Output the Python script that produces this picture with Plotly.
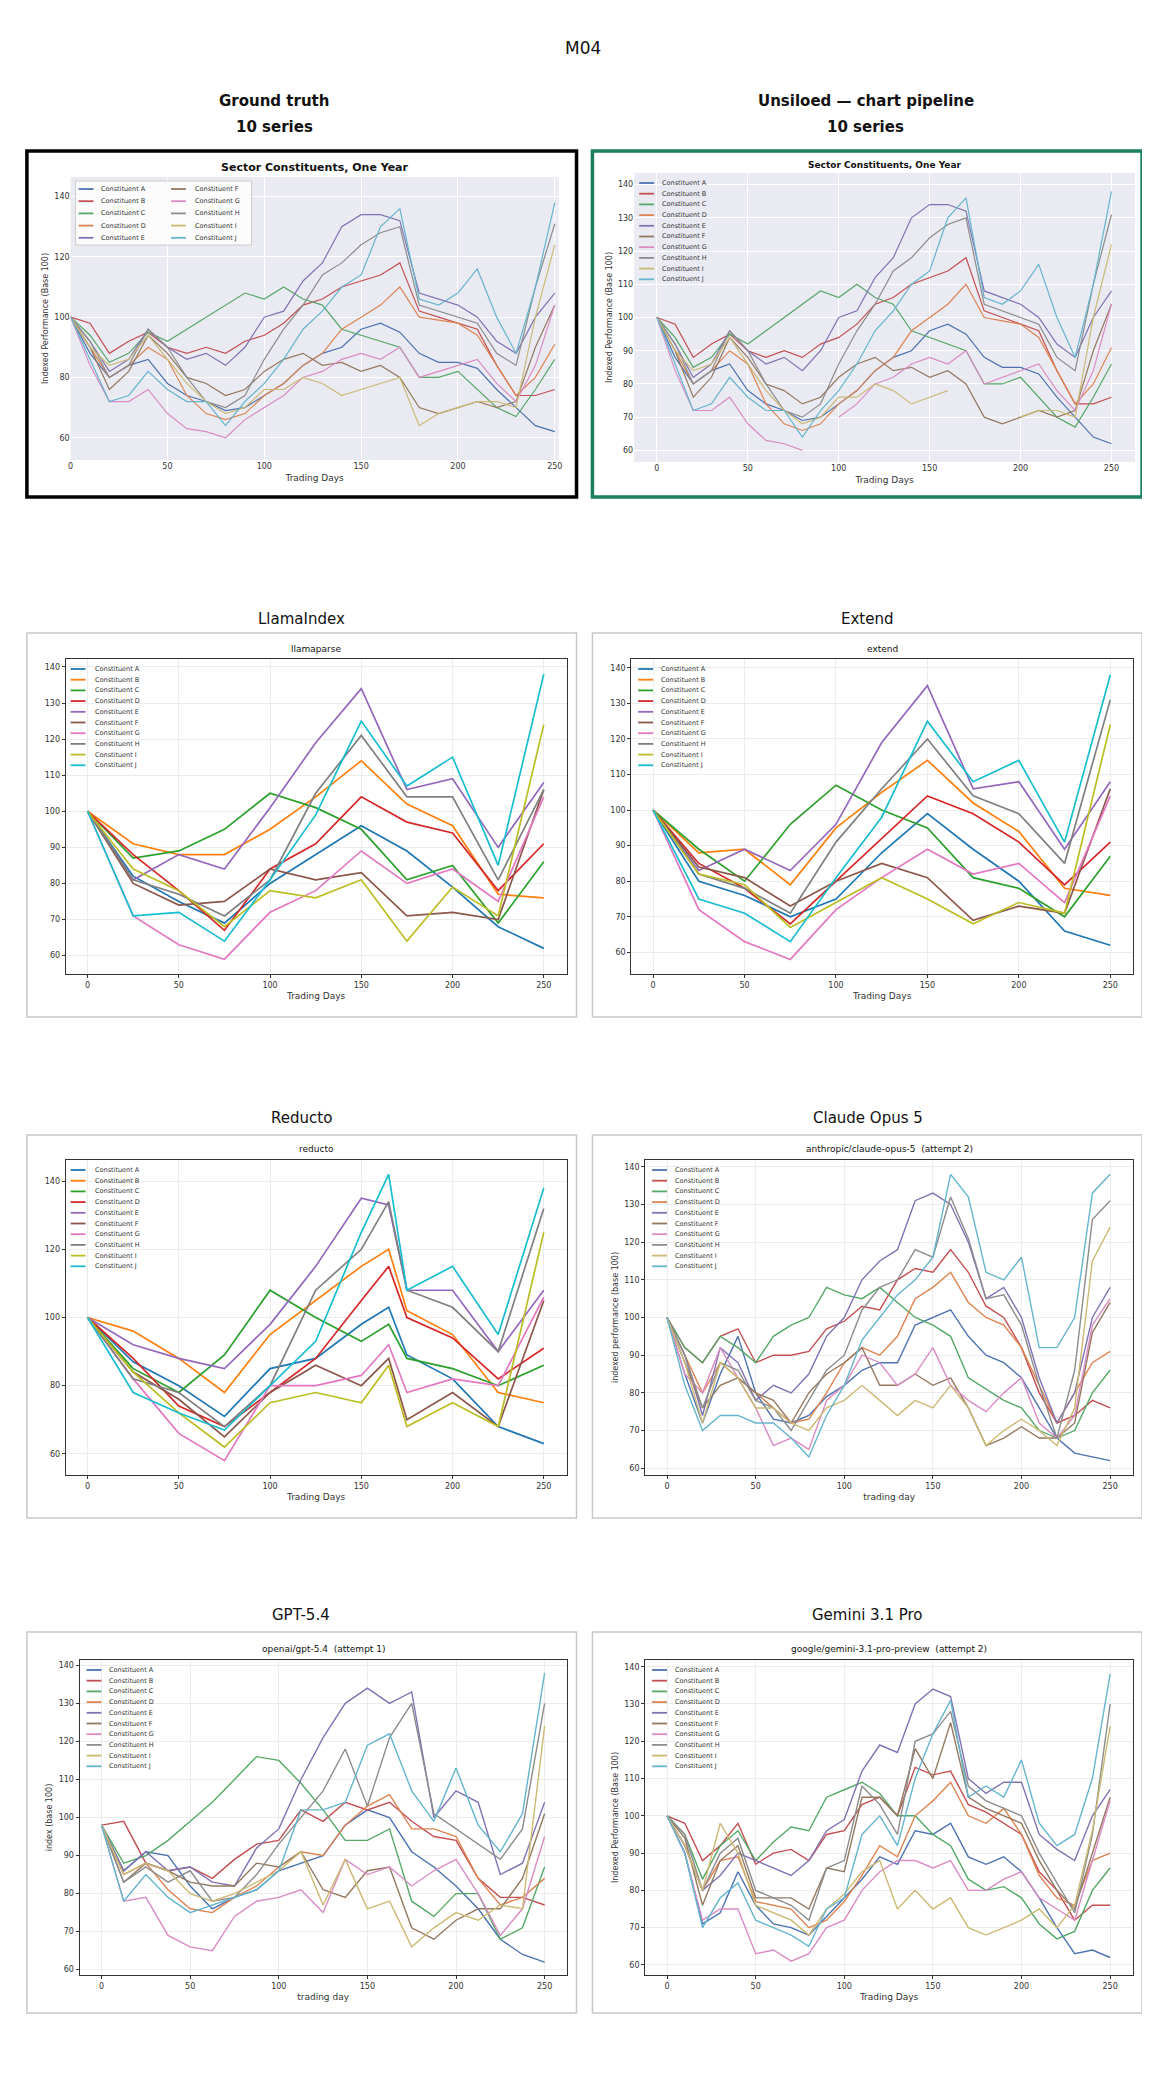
import plotly.graph_objects as go

W, H = 1150, 2100
NAMES = [f"Constituent {c}" for c in "ABCDEFGHIJ"]

DEEP = ["#4C72B0", "#C44E52", "#55A868", "#DD8452", "#8172B3", "#937860", "#DA8BC3", "#8C8C8C", "#CCB974", "#64B5CD"]
TAB10 = ["#1f77b4", "#ff7f0e", "#2ca02c", "#d62728", "#9467bd", "#8c564b", "#e377c2", "#7f7f7f", "#bcbd22", "#17becf"]

# ---- data ----
days10 = list(range(0, 251, 10))
days25 = list(range(0, 251, 25))
days_reducto = [0, 25, 50, 75, 100, 125, 150, 165, 175, 200, 225, 250]
days_gpt = [i * 12.5 for i in range(21)]

gt = [
    [100,88,80,84,86,78,74,72,69,70,74,78,84,88,90,96,98,95,88,85,85,83,76,70,64,62],
    [100,98,88,92,95,90,88,90,88,92,94,98,104,106,110,112,114,118,102,100,98,96,84,74,74,76],
    [100,94,85,88,95,92,96,100,104,108,106,110,106,104,96,94,92,90,80,80,82,76,70,67,76,86],
    [100,90,80,84,90,86,74,68,66,68,74,78,84,88,96,100,104,110,100,99,98,94,84,74,80,91],
    [100,92,82,86,96,90,86,88,84,90,100,102,112,118,130,134,134,132,108,106,104,100,92,88,100,108],
    [100,90,76,82,94,88,80,78,74,76,82,86,88,84,85,82,84,80,70,68,70,72,70,72,90,104],
    [100,84,72,72,76,68,63,62,60,66,70,74,80,82,86,88,86,90,80,82,84,86,78,72,84,104],
    [100,92,80,84,96,90,80,72,70,74,86,96,104,114,118,124,128,130,104,102,100,98,88,84,110,131],
    [100,90,84,86,94,86,78,72,68,70,76,76,80,78,74,76,78,80,64,68,70,72,72,70,100,124],
    [100,86,72,74,82,76,72,72,64,72,78,86,96,102,110,114,130,136,106,104,108,116,100,88,110,138],
]
uns = [
    [100,88,80,84,86,78,74,72,69,70,74,78,84,88,90,96,98,95,88,85,85,83,76,70,64,62],
    [100,98,88,92,95,90,88,90,88,92,94,98,104,106,110,112,114,118,102,100,98,96,84,74,74,76],
    [100,94,85,88,95,92,96,100,104,108,106,110,106,104,96,94,92,90,80,80,82,76,70,67,76,86],
    [100,90,80,84,90,86,74,68,66,68,74,78,84,88,96,100,104,110,100,99,98,94,84,74,80,91],
    [100,92,82,86,96,90,86,88,84,90,100,102,112,118,130,134,134,132,108,106,104,100,92,88,100,108],
    [100,90,76,82,94,88,80,78,74,76,82,86,88,84,85,82,84,80,70,68,70,72,70,72,90,104],
    [100,84,72,72,76,68,63,62,60,None,70,74,80,82,86,88,86,90,80,82,84,86,78,72,84,104],
    [100,92,80,84,96,90,80,72,70,74,86,96,104,114,118,124,128,130,104,102,100,98,88,84,110,131],
    [100,90,84,86,94,86,78,72,68,70,76,76,80,78,74,76,78,None,64,None,70,72,72,70,100,122],
    [100,86,72,74,82,76,72,72,64,72,78,86,96,102,110,114,130,136,106,104,108,116,100,88,110,138],
]
llama = [
    [100,82,75,69,80,88,96,89,79,68,62],
    [100,91,88,88,95,104,114,102,96,77,76],
    [100,87,89,95,105,101,95,81,85,69,86],
    [100,88,78,67,84,91,104,97,94,78,91],
    [100,81,88,84,101,119,134,106,109,90,108],
    [100,80,74,75,84,81,83,71,72,70,106],
    [100,71,63,59,72,78,89,80,84,75,104],
    [100,81,77,71,81,105,121,104,104,81,106],
    [100,84,78,68,78,76,81,64,79,71,124],
    [100,71,72,64,81,99,125,107,115,85,138],
]
extend = [
    [100,80,76,70,75,88,99,89,80,66,62],
    [100,88,89,79,95,105,114,102,94,78,76],
    [100,89,80,96,107,100,95,81,78,70,87],
    [100,85,78,68,80,92,104,99,91,79,91],
    [100,83,89,83,96,119,135,106,108,89,108],
    [100,84,81,73,80,85,81,69,73,71,106],
    [100,72,63,58,72,81,89,82,85,74,104],
    [100,82,78,71,91,106,120,104,99,85,131],
    [100,82,79,67,74,81,75,68,74,71,124],
    [100,75,71,63,81,98,125,108,114,91,138],
]
reducto = [
    [100,87,80,71,85,88,98,103,89,82,68,63],
    [100,96,88,78,95,105,115,120,102,95,78,75],
    [100,85,78,89,108,100,93,98,88,85,80,86],
    [100,88,74,68,78,88,105,115,100,94,82,91],
    [100,92,88,85,98,115,135,133,108,108,90,108],
    [100,84,76,65,78,86,80,88,70,78,68,105],
    [100,82,66,58,80,80,83,92,78,82,80,106],
    [100,82,78,68,80,108,120,134,108,103,90,132],
    [100,84,72,62,75,78,75,86,68,75,68,125],
    [100,78,72,67,80,93,125,142,108,115,95,138],
]
claude = [
    [100,85,72,85,95,80,73,72,74,79,82,86,88,88,98,100,102,95,90,88,84,76,68,64,63,62],
    [100,92,88,95,97,88,90,90,91,97,99,103,102,110,113,112,118,112,103,100,92,80,72,74,78,76],
    [100,92,88,95,92,88,95,98,100,108,106,105,108,104,100,98,95,84,81,78,76,70,68,70,80,86],
    [100,90,80,88,84,80,76,72,73,80,88,92,90,95,105,108,112,104,100,98,92,82,72,80,88,91],
    [100,90,74,92,88,78,82,80,85,95,100,110,115,118,131,133,130,120,105,108,100,84,72,80,100,108],
    [100,88,76,82,84,80,78,72,80,85,88,92,82,82,85,82,84,76,66,68,71,68,68,72,96,104],
    [100,85,80,92,84,76,66,68,65,78,82,90,88,82,85,92,82,78,75,80,84,72,68,74,98,105],
    [100,90,76,88,86,78,76,70,78,86,90,102,108,110,118,116,132,121,105,106,98,82,68,86,126,131],
    [100,88,72,88,84,76,76,72,70,76,78,82,78,74,78,76,82,76,66,70,73,70,66,76,115,124],
    [100,82,70,74,74,72,72,68,63,74,82,94,100,106,110,116,138,132,112,110,116,92,92,100,133,138],
]
gpt = [
    [98,86,91,90,82,76,79,81,86,88,90,98,102,100,91,87,82,76,68,64,62],
    [98,99,88,86,87,84,89,93,94,102,99,104,102,104,99,95,94,84,79,79,77],
    [98,88,90,94,99,104,110,116,115,109,102,94,94,97,78,74,80,80,68,71,87],
    [98,85,88,81,76,75,79,82,87,91,90,98,103,106,97,97,95,84,77,79,84],
    [98,86,91,86,87,83,82,92,97,110,121,130,134,130,133,100,107,104,85,88,104],
    [98,83,88,86,83,82,82,88,87,91,81,79,86,87,71,68,73,76,76,84,101],
    [98,78,79,69,66,65,74,78,79,81,75,89,85,87,82,86,89,80,69,76,95],
    [98,83,87,83,86,78,79,85,93,100,107,118,103,121,130,101,97,93,89,97,130],
    [98,85,88,86,80,78,80,83,86,91,77,89,76,78,66,71,75,73,77,76,124],
    [98,78,85,79,75,77,79,81,86,102,102,104,119,122,107,99,113,98,91,101,138],
]
gemini = [
    [100,90,71,74,85,76,71,70,68,73,78,83,89,87,96,95,98,89,87,89,85,78,70,63,64,62],
    [100,98,88,92,98,87,90,91,88,95,96,103,105,100,113,111,112,103,101,98,95,85,80,72,76,76],
    [100,95,83,92,96,88,93,97,96,105,107,109,106,100,100,95,92,83,80,81,78,71,67,69,80,86],
    [100,92,80,88,89,77,76,75,70,72,77,84,92,89,100,104,109,100,98,102,95,84,78,76,88,90],
    [100,92,80,84,90,88,86,84,88,96,99,112,119,117,130,134,132,110,106,109,109,95,91,88,100,107],
    [100,94,76,88,92,78,78,78,75,86,85,105,105,100,118,110,125,105,102,100,98,88,80,75,90,105],
    [100,90,72,75,75,63,64,61,63,70,72,80,85,88,88,86,88,80,80,83,85,78,75,72,88,104],
    [100,95,80,90,94,80,78,76,72,86,88,108,103,95,120,122,128,108,104,102,100,90,82,74,95,130],
    [100,92,80,98,90,76,74,72,68,75,79,85,88,75,80,75,78,70,68,70,72,75,70,76,96,124],
    [100,90,70,78,82,72,70,68,65,75,78,95,100,92,110,122,131,105,108,105,115,98,92,95,110,138],
]

FONT = "DejaVu Sans"

def px(x0, x1, y0, y1):
    return [x0 / W, x1 / W], [1 - y1 / H, 1 - y0 / H]

panels = [
    dict(d=gt, x=days10, c=DEEP, xp=(60, 551), yp=(169, 452), xr=[0, 252], yr=[52.6, 146.5], dt=20,
         xl="Trading Days", yl="Indexed Performance (Base 100)", st="<b>Sector Constituents, One Year</b>",
         sty=159, dark=True, lw=1.2, stsize=11, leg=None),
    dict(d=uns, x=days10, c=DEEP, xp=(627, 1131), yp=(165, 454), xr=[-12.5, 263], yr=[56.5, 143.5], dt=10,
         xl="Trading Days", yl="Indexed Performance (Base 100)", st="<b>Sector Constituents, One Year</b>",
         sty=157, dark=True, lw=1.2, stsize=9, leg=(632, 653, 175, 10.7)),
    dict(d=llama, x=days25, c=TAB10, xp=(55, 559), yp=(651, 966), xr=[-12, 262.5], yr=[54.9, 142.2], dt=10,
         xl="Trading Days", yl=None, st="llamaparse", sty=641, dark=False, lw=1.7, stsize=9, leg=(60, 83, 661, 10.7)),
    dict(d=extend, x=days25, c=TAB10, xp=(624, 1129), yp=(651, 966), xr=[-12, 262.5], yr=[53.9, 142.5], dt=10,
         xl="Trading Days", yl=None, st="extend", sty=641, dark=False, lw=1.7, stsize=9, leg=(631, 652, 661, 10.7)),
    dict(d=reducto, x=days_reducto, c=TAB10, xp=(55, 559), yp=(1152, 1467), xr=[-12, 262.5], yr=[53.8, 146.2], dt=20,
         xl="Trading Days", yl=None, st="reducto", sty=1141, dark=False, lw=1.7, stsize=9, leg=(60, 83, 1162, 10.7)),
    dict(d=claude, x=days10, c=DEEP, xp=(638, 1129), yp=(1152, 1467), xr=[-12.4, 263], yr=[58.2, 141.8], dt=10,
         xl="trading day", yl="indexed performance (base 100)", st="anthropic/claude-opus-5  (attempt 2)",
         sty=1141, dark=False, lw=1.4, stsize=9, leg=(645, 666, 1162, 10.7)),
    dict(d=gpt, x=days_gpt, c=DEEP, xp=(69, 559), yp=(1652, 1967), xr=[-12.4, 262.4], yr=[58.6, 141.4], dt=10,
         xl="trading day", yl="index (base 100)", st="openai/gpt-5.4  (attempt 1)",
         sty=1641, dark=False, lw=1.4, stsize=9, leg=(76, 97, 1662, 10.7)),
    dict(d=gemini, x=days10, c=DEEP, xp=(638, 1129), yp=(1652, 1967), xr=[-12.4, 263], yr=[57.3, 141.8], dt=10,
         xl="Trading Days", yl="Indexed Performance (Base 100)", st="google/gemini-3.1-pro-preview  (attempt 2)",
         sty=1641, dark=False, lw=1.4, stsize=9, leg=(645, 666, 1662, 10.7)),
]

fig = go.Figure()
annotations = []
shapes = []
layout = {}

def legend_entry(x_line, x_text, y, color, text, lw=1.8):
    shapes.append(dict(type="line", xref="paper", yref="paper", x0=x_line / W, x1=(x_line + 15) / W,
                       y0=1 - y / H, y1=1 - y / H, line=dict(color=color, width=lw)))
    annotations.append(dict(text=text, xref="paper", yref="paper", x=x_text / W, y=1 - y / H,
                            xanchor="left", yanchor="middle", showarrow=False,
                            font=dict(size=6.5, family=FONT, color="#333")))

for i, p in enumerate(panels):
    n = i + 1
    xa = "x" if n == 1 else f"x{n}"
    ya = "y" if n == 1 else f"y{n}"
    xd, yd = px(p["xp"][0], p["xp"][1], p["yp"][0], p["yp"][1])
    for k, (name, vals) in enumerate(zip(NAMES, p["d"])):
        fig.add_trace(go.Scatter(x=p["x"], y=vals, name=name, mode="lines", showlegend=False,
                                 line=dict(color=p["c"][k], width=p["lw"]),
                                 xaxis=xa, yaxis=ya, connectgaps=False))
    grid = "white" if p["dark"] else "#ececec"
    common = dict(showgrid=True, gridcolor=grid, zeroline=False,
                  tickfont=dict(size=8, family=FONT, color="#333"),
                  ticks="" if p["dark"] else "outside", ticklen=3, tickcolor="#333")
    if not p["dark"]:
        common.update(showline=True, linecolor="#333", linewidth=1, mirror=True)
    else:
        common.update(showline=False)
    layout["xaxis" if n == 1 else f"xaxis{n}"] = dict(
        domain=xd, anchor=ya, range=p["xr"], tickvals=[0, 50, 100, 150, 200, 250],
        title=dict(text=p["xl"], font=dict(size=9, family=FONT, color="#333"), standoff=4), **common)
    layout["yaxis" if n == 1 else f"yaxis{n}"] = dict(
        domain=yd, anchor=xa, range=p["yr"], dtick=p["dt"],
        title=dict(text=p["yl"] or "", font=dict(size=8, family=FONT, color="#333"), standoff=4), **common)
    if p["dark"]:
        shapes.append(dict(type="rect", xref="paper", yref="paper", x0=xd[0], x1=xd[1], y0=yd[0], y1=yd[1],
                           fillcolor="#EAEAF2", line=dict(width=0), layer="below"))
    annotations.append(dict(text=p["st"], xref="paper", yref="paper", x=(xd[0] + xd[1]) / 2,
                            y=1 - p["sty"] / H, showarrow=False, xanchor="center", yanchor="middle",
                            font=dict(size=p["stsize"], family=FONT, color="#111")))
    if p["leg"]:
        xl, xt, y0, step = p["leg"]
        for k, name in enumerate(NAMES):
            legend_entry(xl, xt, y0 + k * step, p["c"][k], name)
    else:
        # two-column boxed legend (ground truth)
        shapes.append(dict(type="rect", xref="paper", yref="paper", x0=65 / W, x1=242 / W,
                           y0=1 - 237 / H, y1=1 - 173 / H, fillcolor="rgba(255,255,255,0.85)",
                           line=dict(color="#cccccc", width=1)))
        for k, name in enumerate(NAMES):
            col, row = divmod(k, 5)
            legend_entry(68 + col * 93, 89 + col * 94, 181 + row * 12.2, p["c"][k], name)

def title(text, xc, y, size, bold=False):
    annotations.append(dict(text=f"<b>{text}</b>" if bold else text, xref="paper", yref="paper",
                            x=xc / W, y=1 - y / H, showarrow=False, xanchor="center", yanchor="middle",
                            font=dict(size=size, family=FONT, color="#111")))

title("M04", 575, 40, 17)
title("Ground truth", 265, 93, 15, True)
title("10 series", 265, 119, 15, True)
title("Unsiloed — chart pipeline", 860, 93, 15, True)
title("10 series", 860, 119, 15, True)
title("LlamaIndex", 292, 611, 15)
title("Extend", 862, 611, 15)
title("Reducto", 292, 1110, 15)
title("Claude Opus 5", 862, 1110, 15)
title("GPT-5.4", 292, 1607, 15)
title("Gemini 3.1 Pro", 862, 1607, 15)

def box(x0, x1, y0, y1, color, w):
    shapes.append(dict(type="rect", xref="paper", yref="paper", x0=x0 / W, x1=x1 / W,
                       y0=1 - y1 / H, y1=1 - y0 / H, line=dict(color=color, width=w), layer="below"))

box(16, 569, 143, 489, "#000000", 3.5)
box(585, 1138, 143, 489, "#1a7f5a", 3.5)
for (y0, y1) in [(625, 1009), (1127, 1510), (1624, 2005)]:
    box(16, 569, y0, y1, "#c8c8c8", 1.5)
    box(585, 1138, y0, y1, "#c8c8c8", 1.5)

fig.update_layout(width=W, height=H, margin=dict(l=0, r=0, t=0, b=0),
                  paper_bgcolor="white", plot_bgcolor="rgba(0,0,0,0)", showlegend=False,
                  annotations=annotations, shapes=shapes, **layout)
fig.write_html("out.html")
